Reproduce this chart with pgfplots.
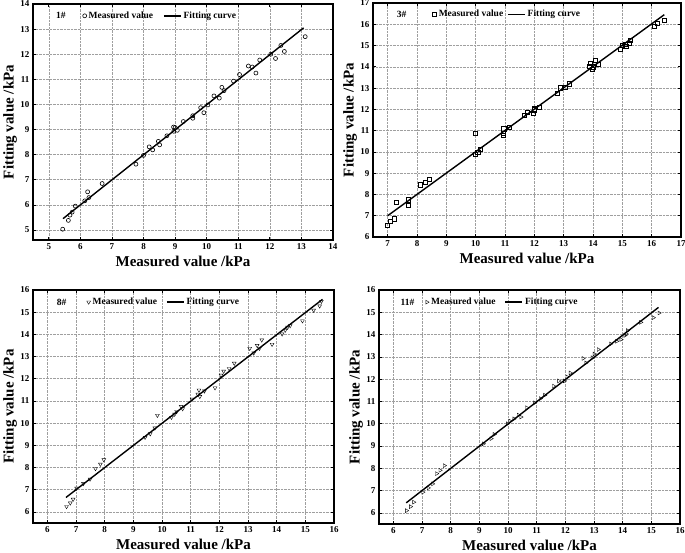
\documentclass[border=0pt]{standalone}
\usepackage{fontspec}
\setmainfont{Liberation Serif}
\usepackage{pgfplots}
\pgfplotsset{compat=1.18}
\tikzset{tag/.style={font=\fontsize{9.5}{10}\selectfont\bfseries}}
\pgfplotsset{
  panel/.style={
    scale only axis,
    axis line style={line width=1.3pt},
    xtick distance=1, ytick distance=1,
    grid=major,
    major grid style={densely dotted, gray!75, line width=0.55pt},
    tick style={black, line width=0.7pt},
    major tick length=3pt,
    ticklabel style={font=\fontsize{9}{10}\selectfont\bfseries},
    /pgf/number format/assume math mode=true,
    xlabel={Measured value /kPa},
    ylabel={Fitting value /kPa},
    label style={font=\fontsize{15}{17}\selectfont\bfseries},
    xlabel style={at={(axis description cs:0.5,0)}, anchor=center, yshift=-21pt},
    ylabel style={at={(axis description cs:0,0.5)}, anchor=center, yshift=23pt},
    legend columns=-1,
    legend cell align=left,
    legend style={draw=none, fill=none, anchor=west,
      font=\fontsize{9.5}{10}\selectfont\bfseries,
      /tikz/every even column/.append style={column sep=7pt}},
  },
  meas/.style={only marks, black, mark size=2pt, mark options={line width=0.6pt, fill=white}},
  fit/.style={black, line width=1.4pt},
}
\begin{document}
\begin{tikzpicture}
\useasboundingbox (0pt,0pt) rectangle (685pt,552pt);
% ---------------- 1#
\begin{axis}[panel, at={(33pt,312pt)}, anchor=south west, width=300pt, height=236pt,
  xmin=4.5, xmax=14, ymin=4.6, ymax=14,
  legend style={at={(0.155,0.95)}, /tikz/every even column/.append style={column sep=8pt}}]
\addplot[meas, mark=o] coordinates {
(5.44,5.03) (5.62,5.38) (5.67,5.59) (5.74,5.71) (5.84,5.95) (6.14,6.16) (6.23,6.52) (6.27,6.29)
(6.69,6.85) (7.76,7.62) (8.0,7.97) (8.18,8.31) (8.29,8.19) (8.47,8.53) (8.51,8.39) (8.74,8.75)
(8.95,9.10) (9.0,9.08) (8.96,8.93) (9.07,8.97) (9.26,9.32) (9.56,9.55) (9.56,9.45) (9.81,9.87)
(9.91,9.67) (10.04,9.98) (10.23,10.34) (10.40,10.25) (10.48,10.68) (10.55,10.55) (10.85,10.93)
(11.04,11.19) (11.32,11.53) (11.44,11.49) (11.56,11.25) (11.68,11.77) (12.03,12.00) (12.18,11.83)
(12.35,12.35) (12.46,12.11) (13.12,12.70)};
\addlegendentry{Measured value}
\addplot[fit] coordinates {(5.45,5.45) (13.07,13.05)};
\addlegendentry{Fitting curve}
\node[tag] at (axis description cs:0.093,0.95) {1\#};
\end{axis}
% ---------------- 3#
\begin{axis}[panel, at={(373pt,315pt)}, anchor=south west, width=308pt, height=234pt,
  xmin=6.5, xmax=17, ymin=6, ymax=17,
  legend style={at={(0.183,0.952)}, /tikz/every even column/.append style={column sep=2pt}}]
\addplot[meas, mark=square, mark size=2.1pt] coordinates {
(7.0,6.56) (7.09,6.72) (7.23,6.86) (7.30,7.63) (7.71,7.75) (7.71,7.50) (8.10,8.45) (8.29,8.58)
(8.41,8.72) (10.0,10.89) (10.0,9.87) (10.07,9.98) (10.17,10.11) (10.93,10.87) (10.96,11.09)
(10.94,10.78) (11.15,11.17) (11.67,11.72) (11.76,11.87) (11.99,11.98) (11.97,11.83) (12.01,12.03)
(12.17,12.08) (12.78,12.76) (12.89,13.01) (13.05,13.03) (13.19,13.20) (13.86,14.03) (13.90,14.15)
(13.98,13.87) (14.02,14.0) (14.09,14.31) (14.19,14.12) (14.93,14.83) (15.0,15.0) (15.09,15.06)
(15.12,14.97) (15.24,15.11) (15.27,15.23) (16.09,15.89) (16.20,16.03) (16.42,16.19)};
\addlegendentry{Measured value}
\addplot[fit] coordinates {(7.0,7.0) (16.43,16.45)};
\addlegendentry{Fitting curve}
\node[tag] at (axis description cs:0.093,0.952) {3\#};
\end{axis}
% ---------------- 8#
\begin{axis}[panel, at={(33pt,29pt)}, anchor=south west, width=301pt, height=233pt,
  xmin=5.5, xmax=16, ymin=5.5, ymax=16,
  legend style={at={(0.168,0.948)}}]
\addplot[meas, mark=triangle, mark size=2.2pt, mark options={rotate=180}] coordinates {
(6.67,6.24) (6.8,6.4) (6.9,6.57) (7.02,7.07) (7.26,7.28) (7.49,7.48) (7.68,7.95) (7.85,8.15)
(7.97,8.35) (9.41,9.36) (9.59,9.52) (9.75,9.78) (9.84,10.35) (10.33,10.26) (10.44,10.40)
(10.51,10.52) (10.67,10.75) (10.72,10.65) (11.05,11.08) (11.25,11.30) (11.29,11.49) (11.32,11.20)
(11.48,11.45) (11.85,11.59) (12.06,12.16) (12.15,12.34) (12.34,12.46) (12.52,12.70) (13.06,13.37)
(13.20,13.16) (13.32,13.50) (13.48,13.75) (13.40,13.37) (13.84,13.55) (14.19,14.02) (14.30,14.19)
(14.47,14.39) (14.38,14.32) (14.90,14.61) (15.29,15.09) (15.50,15.28) (15.56,15.49)};
\addlegendentry{Measured value}
\addplot[fit] coordinates {(6.65,6.65) (15.6,15.58)};
\addlegendentry{Fitting curve}
\node[tag] at (axis description cs:0.095,0.948) {8\#};
\end{axis}
% ---------------- 11#
\begin{axis}[panel, at={(379pt,28pt)}, anchor=south west, width=301pt, height=234pt,
  xmin=5.5, xmax=16, ymin=5.5, ymax=16,
  legend style={at={(0.145,0.948)}}]
\addplot[meas, mark=triangle, mark size=2.2pt, mark options={rotate=150}] coordinates {
(6.46,6.10) (6.60,6.28) (6.71,6.48) (7.03,6.93) (7.22,7.12) (7.37,7.30) (7.51,7.76) (7.63,7.91)
(7.78,8.12) (9.14,9.10) (9.41,9.33) (9.52,9.52) (9.98,10.0) (10.07,10.12) (10.21,10.22)
(10.36,10.39) (10.45,10.30) (10.65,10.72) (10.93,10.94) (11.13,11.13) (11.28,11.28) (11.59,11.69)
(11.77,11.92) (11.97,11.92) (12.06,12.10) (12.17,12.28) (12.62,12.93) (12.72,12.73) (12.94,12.96)
(13.01,13.13) (13.15,13.33) (13.58,13.58) (13.79,13.70) (13.94,13.78) (14.08,13.96) (14.12,14.03)
(14.17,14.18) (14.63,14.55) (15.07,14.76) (15.27,14.97)};
\addlegendentry{Measured value}
\addplot[fit] coordinates {(6.45,6.45) (15.25,15.22)};
\addlegendentry{Fitting curve}
\node[tag] at (axis description cs:0.095,0.948) {11\#};
\end{axis}
\end{tikzpicture}
\end{document}
